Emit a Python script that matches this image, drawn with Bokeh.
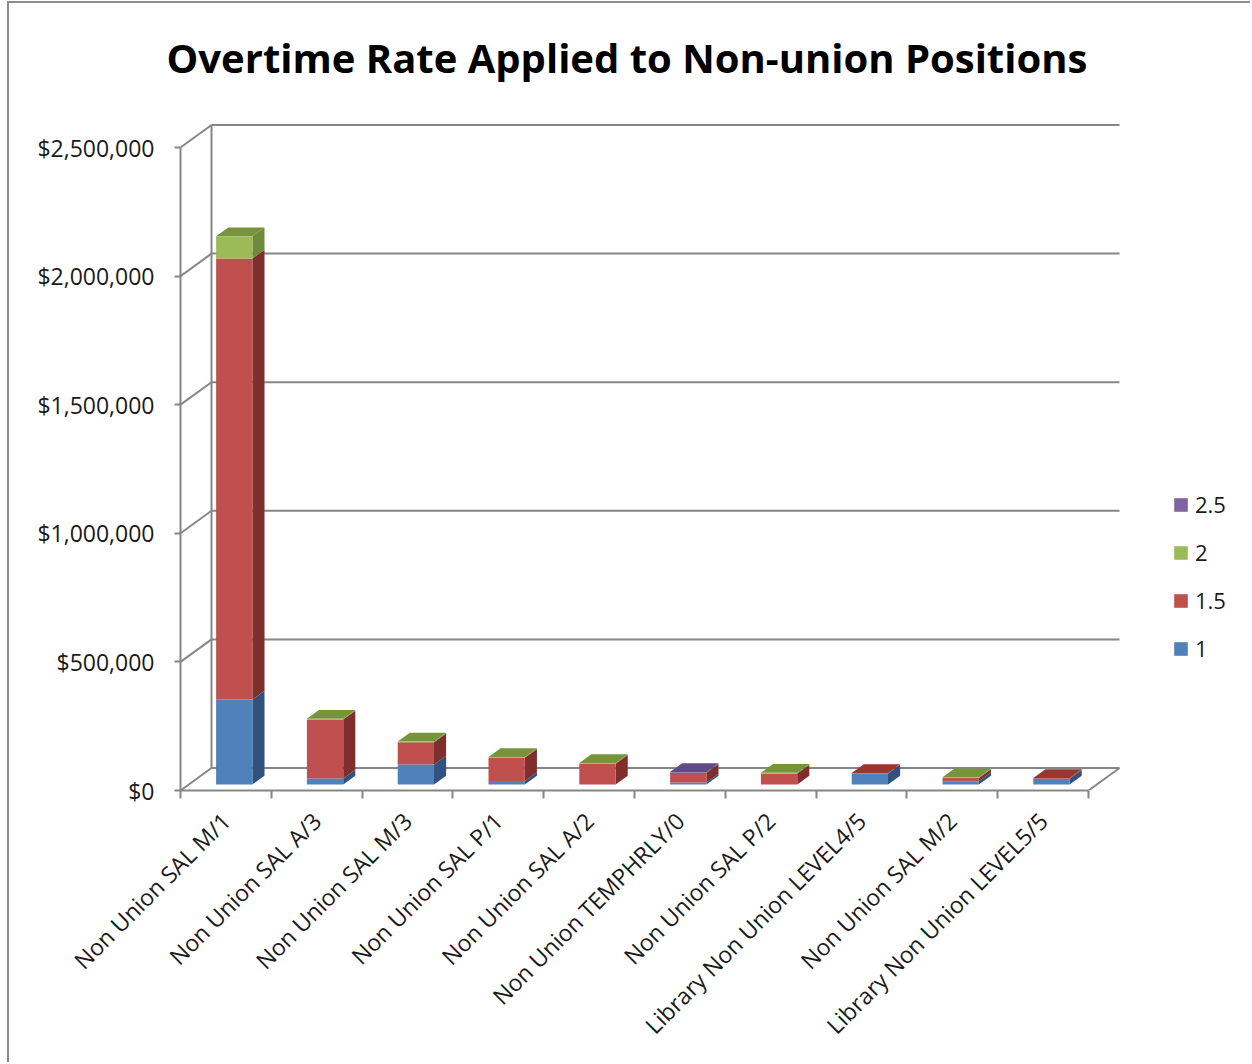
from math import pi
from bokeh.plotting import figure
from bokeh.models import (FixedTicker, NumeralTickFormatter, Legend, LegendItem,
                          Range1d, ColumnDataSource, Title)
from bokeh.embed import file_html
from bokeh.resources import INLINE

# ---------------- data ----------------
categories = [
    "Non Union SAL M/1", "Non Union SAL A/3", "Non Union SAL M/3",
    "Non Union SAL P/1", "Non Union SAL A/2", "Non Union TEMPHRLY/0",
    "Non Union SAL P/2", "Library Non Union LEVEL4/5", "Non Union SAL M/2",
    "Library Non Union LEVEL5/5",
]
series_names = ["1", "1.5", "2", "2.5"]
rate_1 = [330000, 23000, 77000, 13000, 0, 7000, 0, 42000, 12000, 22000]
rate_1_5 = [1715000, 229000, 87000, 91000, 80000, 38000, 42000, 2000, 13000, 3000]
rate_2 = [86000, 3000, 3000, 3000, 3000, 0, 3000, 0, 3000, 0]
rate_2_5 = [0, 0, 0, 0, 0, 3000, 0, 0, 0, 0]
y_ticks = [0, 500000, 1000000, 1500000, 2000000, 2500000]
values = {"1": rate_1, "1.5": rate_1_5, "2": rate_2, "2.5": rate_2_5}

# ---------------- styling ----------------
FRONT = {"1": "#4F81BD", "1.5": "#C0504D", "2": "#9BBB59", "2.5": "#8064A2"}
SIDE = {"1": "#31527F", "1.5": "#7E2F2D", "2": "#6E8B3C", "2.5": "#5B4775"}
TOP = {"1": "#3F6EA6", "1.5": "#983632", "2": "#77933C", "2.5": "#604A85"}
GRID = "#868686"
TXT = "#1a1a1a"
FONT = "Open Sans"

# geometry (page pixels -> data units)
PX_CAT = 90.8            # px per category
PX_PER_USD = 257.2 / 1e6  # px per dollar
DX = 31 / PX_CAT          # wall depth in category units
DY = 22.5 / PX_PER_USD    # wall depth in dollars
F0 = 0.27                 # bar front position within depth
BD = 0.39                 # bar depth fraction
BW = 0.40                 # bar width (categories)

# canvas placement
OFF_X, OFF_Y = 9, 3
W, H = 1252 - OFF_X, 1064 - OFF_Y
FRAME_L, FRAME_R, FRAME_T, FRAME_B = 180, 1245, 100, 790
n = len(categories)

p = figure(width=W, height=H, output_backend="svg", toolbar_location=None,
           x_range=Range1d(0, (FRAME_R - FRAME_L) / PX_CAT),
           y_range=Range1d(0, (FRAME_B - FRAME_T) / PX_PER_USD),
           min_border_left=FRAME_L - OFF_X, min_border_right=W - (FRAME_R - OFF_X),
           min_border_top=FRAME_T - OFF_Y, min_border_bottom=H - (FRAME_B - OFF_Y),
           background_fill_color="white", border_fill_color="white")
p.margin = (1, 0, 0, 7)
p.styles = {"border-top": "2px solid #8c8c8c", "border-left": "2px solid #8c8c8c"}
p.outline_line_color = None
p.xgrid.visible = False
p.ygrid.visible = False

title = Title(text="Overtime Rate Applied to Non-union  Positions", align="left",
              offset=-14, text_font=FONT, text_font_size="40px", text_font_style="bold",
              text_color="black", standoff=31)
p.title = title

# walls: back gridlines, side-wall diagonals, back vertical, floor right edge
gx0, gx1, gy = [], [], []
for v in y_ticks:
    gx0.append(DX); gx1.append(n + DX); gy.append(v + DY)
p.segment(x0=gx0, y0=gy, x1=gx1, y1=gy, line_color=GRID, line_width=2)
p.segment(x0=[0] * len(y_ticks), y0=y_ticks, x1=[DX] * len(y_ticks),
          y1=[v + DY for v in y_ticks], line_color=GRID, line_width=2)
p.segment(x0=[DX], y0=[DY], x1=[DX], y1=[y_ticks[-1] + DY], line_color=GRID, line_width=2)
p.segment(x0=[n], y0=[0], x1=[n + DX], y1=[DY], line_color=GRID, line_width=2)

# bars
front = {s: dict(left=[], right=[], bottom=[], top=[]) for s in series_names}
side_xs, side_ys, side_c = [], [], []
top_xs, top_ys, top_c = [], [], []
base = F0 * DY
for i in range(n):
    left = i + 0.5 - BW / 2 + F0 * DX
    right = left + BW
    cum = 0
    last = None
    for s in series_names:
        v = values[s][i]
        if v <= 0:
            continue
        b, t = cum + base, cum + v + base
        front[s]["left"].append(left); front[s]["right"].append(right)
        front[s]["bottom"].append(b); front[s]["top"].append(t)
        side_xs.append([right, right + BD * DX, right + BD * DX, right])
        side_ys.append([b, b + BD * DY, t + BD * DY, t])
        side_c.append(SIDE[s])
        cum += v
        last = s
    if last is not None:
        t = cum + base
        top_xs.append([left, right, right + BD * DX, left + BD * DX])
        top_ys.append([t, t, t + BD * DY, t + BD * DY])
        top_c.append(TOP[last])

p.patches(xs=side_xs, ys=side_ys, fill_color=side_c, line_color=None)
p.patches(xs=top_xs, ys=top_ys, fill_color=top_c, line_color=None)
renderers = {}
for s in series_names:
    renderers[s] = p.quad(source=ColumnDataSource(front[s]), left="left", right="right",
                          bottom="bottom", top="top", fill_color=FRONT[s], line_color=None)

# y axis
ya = p.yaxis[0]
ya.ticker = FixedTicker(ticks=y_ticks, minor_ticks=[])
ya.formatter = NumeralTickFormatter(format="$0,0")
ya.bounds = (0, y_ticks[-1])
ya.axis_line_color = GRID
ya.axis_line_width = 2
ya.major_tick_line_color = GRID
ya.major_tick_line_width = 2
ya.major_tick_out = 6
ya.major_tick_in = 0
ya.major_label_standoff = 20
ya.major_label_text_font = FONT
ya.major_label_text_font_size = "23px"
ya.major_label_text_color = TXT

# x axis
xa = p.xaxis[0]
centers = [i + 0.5 for i in range(n)]
xa.ticker = FixedTicker(ticks=centers, minor_ticks=list(range(n + 1)))
xa.major_label_overrides = {c: cat for c, cat in zip(centers, categories)}
xa.bounds = (0, n)
xa.axis_line_color = GRID
xa.axis_line_width = 2
xa.major_tick_line_color = None
xa.major_tick_out = 0
xa.major_tick_in = 0
xa.minor_tick_line_color = GRID
xa.minor_tick_line_width = 2
xa.minor_tick_out = 8
xa.minor_tick_in = 0
xa.major_label_orientation = pi / 4
xa.major_label_standoff = 18
xa.major_label_text_font = FONT
xa.major_label_text_font_size = "23px"
xa.major_label_text_color = TXT

# legend
items = [LegendItem(label=s, renderers=[renderers[s]]) for s in reversed(series_names)]
legend = Legend(items=items, location=(1172 - FRAME_L, FRAME_B - 663),
                border_line_color=None, background_fill_alpha=0,
                glyph_width=17, glyph_height=17, label_standoff=6,
                label_text_font=FONT, label_text_font_size="22px",
                label_text_color=TXT, spacing=18, padding=0, margin=0)
p.add_layout(legend, "center")

open("out.html", "w").write(file_html(p, INLINE))
